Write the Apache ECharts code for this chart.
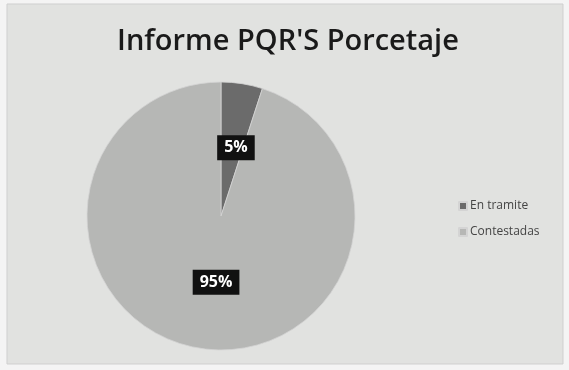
<!DOCTYPE html>
<html>
<head>
<meta charset="utf-8">
<style>
  html, body { margin: 0; padding: 0; background: #f4f4f4; }
  #chart { width: 569px; height: 370px; }
</style>
<script src="https://cdn.jsdelivr.net/npm/echarts@6/dist/echarts.min.js"></script>
</head>
<body>
<div id="chart"></div>
<script>
// Estado de las PQR'S en porcentaje
const categories = ['En tramite', 'Contestadas'];
const values = [5, 95];
const colors = ['#6b6b6b', '#b6b7b5'];
// Desplazamiento de cada etiqueta respecto a su posición interior
const labelShift = [[4, 1], [6, -3]];

const chart = echarts.init(document.getElementById('chart'), null, { renderer: 'canvas' });

chart.setOption({
  backgroundColor: '#f4f4f4',
  animation: false,
  graphic: [{
    type: 'rect',
    z: -10,
    shape: { x: 7, y: 4, width: 556, height: 360 },
    style: { fill: '#e1e2e0', stroke: '#cfcfcf', lineWidth: 1 }
  }],
  title: {
    text: "Informe PQR'S Porcetaje",
    left: 283,
    top: 22,
    textAlign: 'center',
    textStyle: {
      fontFamily: 'Open Sans',
      fontWeight: 600,
      fontSize: 29,
      color: '#1a1a1a'
    }
  },
  legend: {
    orient: 'vertical',
    left: 453,
    top: 195,
    itemWidth: 8,
    itemHeight: 8,
    itemGap: 14,
    icon: 'rect',
    textStyle: { fontFamily: 'Open Sans', fontSize: 12, color: '#444444', padding: [0, 0, 0, -2] },
    data: categories
  },
  series: [{
    type: 'pie',
    center: [221, 216],
    radius: [0, 134],
    startAngle: 90,
    clockwise: true,
    silent: true,
    itemStyle: { borderColor: '#d4d4d4', borderWidth: 0.8 },
    label: {
      show: true,
      position: 'inside',
      formatter: '{d}%',
      color: '#ffffff',
      fontFamily: 'Open Sans',
      fontWeight: 'bold',
      fontSize: 16,
      backgroundColor: '#111111',
      padding: [5, 7, 4, 7]
    },
    labelLine: { show: false },
    data: categories.map((name, i) => ({
      name,
      value: values[i],
      itemStyle: { color: colors[i] },
      label: { offset: labelShift[i] }
    }))
  }]
});
</script>
</body>
</html>
